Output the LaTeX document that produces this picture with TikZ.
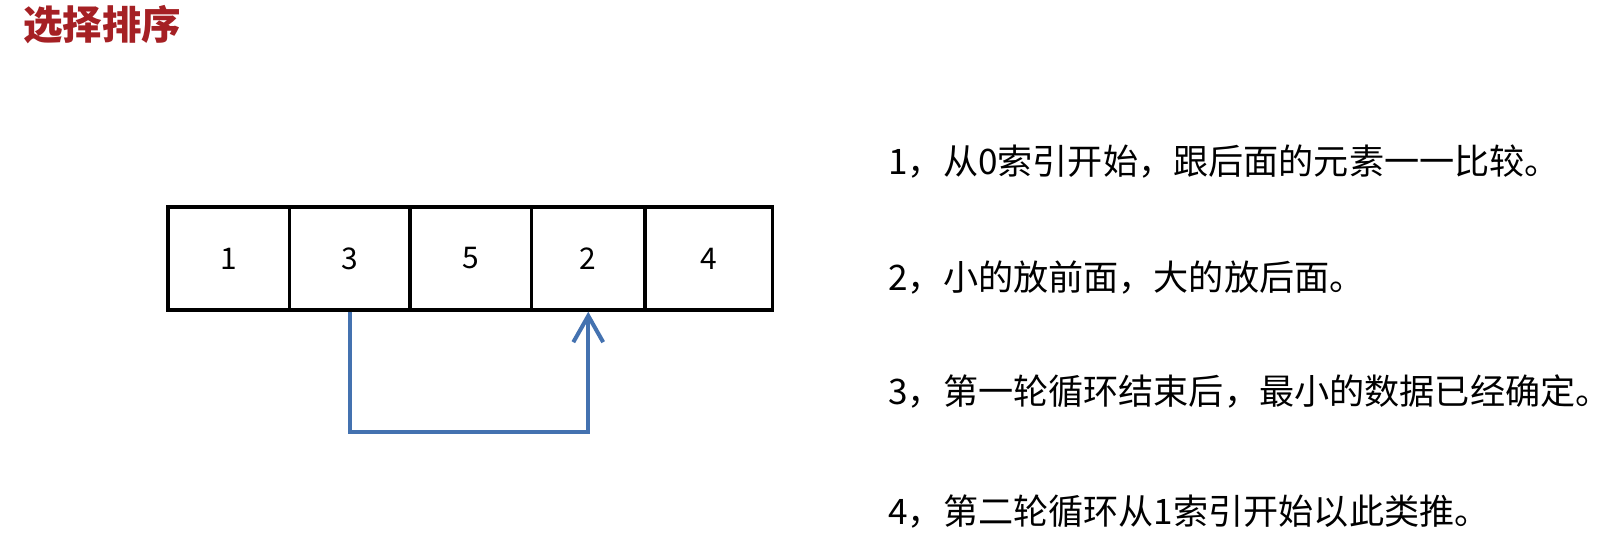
\documentclass[tikz,border=0pt]{standalone}
\usepackage{fontspec}
\setmainfont{Noto Sans CJK SC}
\usepackage{tikz}
\usetikzlibrary{arrows.meta, positioning}
\definecolor{titlered}{RGB}{165, 32, 36}
\definecolor{swapblue}{RGB}{68, 114, 176}

\begin{document}
\begin{tikzpicture}[x=0.02cm, y=-0.02cm,
    cellbox/.style={draw=black, line width=2pt, minimum height=2.06cm, inner sep=0pt, font=\fontsize{17}{20}\selectfont},
    swaparrow/.style={draw=swapblue, line width=2.3pt, -{Straight Barb[length=15pt, width=17pt, line width=2.3pt]}},
    stepline/.style={anchor=west, inner sep=0pt, font=\fontsize{20}{24}\selectfont}]
    \useasboundingbox (0,0) rectangle (1615,546);

    \node[anchor=west, inner sep=0pt, text=titlered, font=\fontsize{22.5}{26}\selectfont\bfseries] (title) at (23,25) {选择排序};

    \foreach \name/\xc/\w/\val in {c1/228.7/2.428/1, c2/349.7/2.412/3, c3/470.75/2.43/5, c4/588.25/2.27/2, c5/708.75/2.55/4}
        \node[cellbox, minimum width=\w cm] (\name) at (\xc,258.5) {\val};

    \draw[swaparrow] (c2.south) -- ++(0,120) -| (c4.south);

    \node[stepline] (s1) at (888,162) {1，从0索引开始，跟后面的元素一一比较。};
    \node[stepline] (s2) at (888,278) {2，小的放前面，大的放后面。};
    \node[stepline] (s3) at (888,392) {3，第一轮循环结束后，最小的数据已经确定。};
    \node[stepline] (s4) at (888,512) {4，第二轮循环从1索引开始以此类推。};
\end{tikzpicture}
\end{document}
